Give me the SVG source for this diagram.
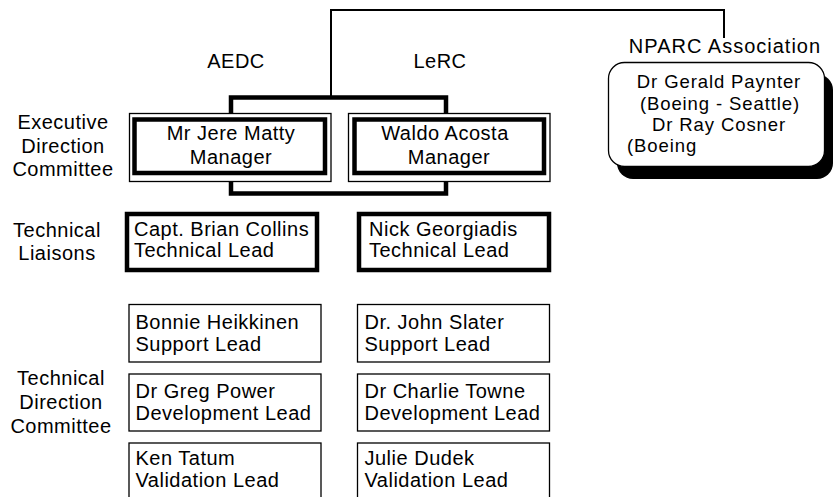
<svg xmlns="http://www.w3.org/2000/svg" width="835" height="497" viewBox="0 0 835 497">
<style>
text{font-family:"Liberation Sans",Arial,Helvetica,sans-serif;font-size:20px;fill:#000;letter-spacing:0.5px}
.c{text-anchor:middle}
.n{font-size:18.5px;letter-spacing:0.9px}
.thin{fill:#fff;stroke:#000;stroke-width:1.3}
.thick{fill:#fff;stroke:#000;stroke-width:4.5}
.conn{fill:none;stroke:#000}
</style>
<rect width="835" height="497" fill="#fff"/>
<g id="connectors">
<path class="conn" stroke-width="2" d="M331,97 V10 H724 V38"/>
<path class="conn" stroke-width="4.5" d="M231,114 V97.5 H446 V114"/>
<path class="conn" stroke-width="4.5" d="M231,180 V193.5 H446 V180"/>
</g>
<g id="labels">
<text class="c" x="236" y="68">AEDC</text>
<text class="c" x="440" y="68">LeRC</text>
<text class="c" x="63" y="129">Executive</text>
<text class="c" x="63" y="153">Direction</text>
<text class="c" x="63" y="176">Committee</text>
<text class="c" x="57" y="237">Technical</text>
<text class="c" x="57" y="260">Liaisons</text>
<text class="c" x="61" y="385">Technical</text>
<text class="c" x="61" y="409">Direction</text>
<text class="c" x="61" y="433">Committee</text>
</g>
<g id="nparc">
<text class="c" x="725" y="53" style="letter-spacing:1px">NPARC Association</text>
<rect x="617" y="74" width="216" height="105" rx="16" fill="#000"/>
<rect x="608.5" y="62.5" width="216" height="104" rx="16" class="thin"/>
<text class="c n" x="719" y="88">Dr Gerald Paynter</text>
<text class="c n" x="720" y="110">(Boeing - Seattle)</text>
<text class="c n" x="719" y="131">Dr Ray Cosner</text>
<text class="n" x="627" y="152">(Boeing</text>
</g>
<g id="aedc-manager">
<rect x="129.5" y="113.5" width="201.5" height="68" class="thin" stroke-width="1"/>
<rect x="134.5" y="119.5" width="190.5" height="53.5" class="thick"/>
<text class="c" x="231" y="140">Mr Jere Matty</text>
<text class="c" x="231" y="164">Manager</text>
</g>
<g id="lerc-manager">
<rect x="348.5" y="113.5" width="201.5" height="68" class="thin" stroke-width="1"/>
<rect x="354.5" y="119.5" width="189.5" height="53.5" class="thick"/>
<text class="c" x="445" y="140">Waldo Acosta</text>
<text class="c" x="449" y="164">Manager</text>
</g>
<g id="aedc-tech">
<rect x="127" y="214" width="190" height="56" class="thick"/>
<text x="134" y="236">Capt. Brian Collins</text>
<text x="134" y="257">Technical Lead</text>
</g>
<g id="lerc-tech">
<rect x="359" y="214" width="190" height="56" class="thick"/>
<text x="369" y="236">Nick Georgiadis</text>
<text x="369" y="257">Technical Lead</text>
</g>
<g id="aedc-support">
<rect x="129" y="304.5" width="192" height="57.5" class="thin"/>
<text x="135.5" y="328.5">Bonnie Heikkinen</text>
<text x="135.5" y="351">Support Lead</text>
</g>
<g id="aedc-dev">
<rect x="129" y="374" width="192" height="57" class="thin"/>
<text x="135.5" y="398">Dr Greg Power</text>
<text x="135.5" y="420">Development Lead</text>
</g>
<g id="aedc-val">
<rect x="129" y="443" width="192" height="60" class="thin"/>
<text x="135.5" y="465">Ken Tatum</text>
<text x="135.5" y="487">Validation Lead</text>
</g>
<g id="lerc-support">
<rect x="357.5" y="304.5" width="192" height="57.5" class="thin"/>
<text x="364.5" y="328.5">Dr. John Slater</text>
<text x="364.5" y="351">Support Lead</text>
</g>
<g id="lerc-dev">
<rect x="357.5" y="374" width="192" height="57" class="thin"/>
<text x="364.5" y="398">Dr Charlie Towne</text>
<text x="364.5" y="420">Development Lead</text>
</g>
<g id="lerc-val">
<rect x="357.5" y="443" width="192" height="60" class="thin"/>
<text x="364.5" y="465">Julie Dudek</text>
<text x="364.5" y="487">Validation Lead</text>
</g>
</svg>
